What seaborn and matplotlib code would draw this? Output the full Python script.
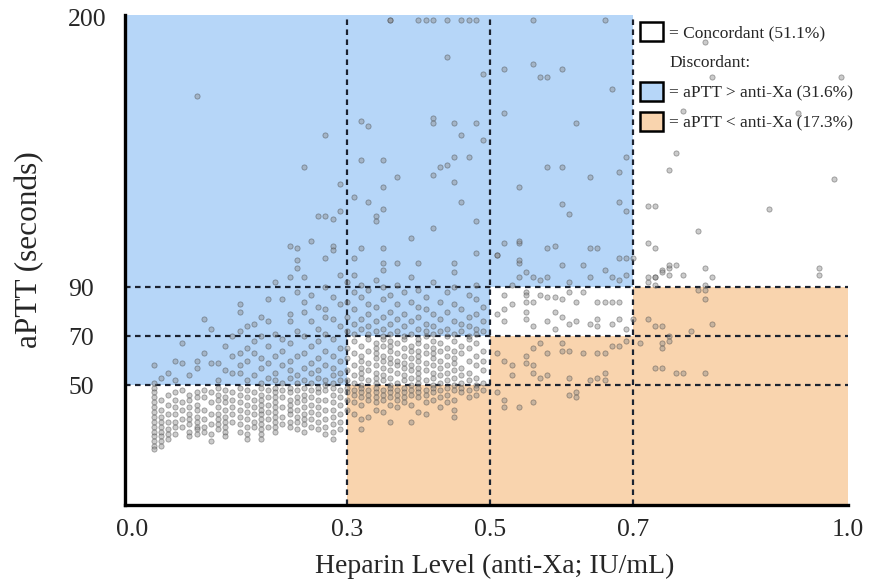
import matplotlib
matplotlib.use('Agg')
import matplotlib.pyplot as plt
from matplotlib.patches import Patch
import seaborn as sns
import pandas as pd
import numpy as np

# thresholds (therapeutic ranges)
x_cuts = [0.3, 0.5, 0.7]
y_cuts = [50, 70, 90]
x_ticks = [0.0, 0.3, 0.5, 0.7, 1.0]
y_ticks = [50, 70, 90, 200]

# concordant, low anti-Xa / low aPTT (x < 0.3, y < 50)
low_cols = [0.03, 0.04, 0.05, 0.06, 0.07, 0.08, 0.09, 0.10, 0.11, 0.12, 0.13, 0.14,
            0.15, 0.16, 0.17, 0.18, 0.19, 0.20, 0.21, 0.22, 0.23, 0.24, 0.25, 0.26,
            0.27, 0.28, 0.29]
low_vals = [
    [49, 47, 45, 43, 41, 39, 37, 35, 33, 31, 29, 27, 25, 24],
    [44, 40, 37, 35, 33, 31, 29, 27, 25],
    [46, 42, 38, 35, 32, 30, 28],
    [47, 44, 41, 38, 35, 33, 30],
    [48, 43, 40, 36, 33],
    [46, 44, 41, 38, 36, 34, 31, 29],
    [47, 45, 42, 40, 37, 35, 33, 32, 30],
    [48, 45, 40, 36, 33, 31],
    [47, 43, 38, 34, 30, 27],
    [49, 46, 44, 41, 38, 36, 34, 32],
    [48, 45, 43, 40, 37, 35, 33, 31, 29],
    [47, 44, 41, 38, 35],
    [49, 46, 43, 40, 37, 34, 31],
    [48, 45, 42, 39, 36, 33, 30, 28],
    [47, 44, 41, 38, 35, 33],
    [49, 46, 44, 42, 40, 38, 36, 34, 32, 30, 28],
    [48, 45, 42, 39, 36, 33],
    [49, 47, 45, 43, 41, 39, 37, 35, 33, 31],
    [48, 45, 41, 37, 34],
    [49, 47, 44, 42, 40, 38, 35, 33],
    [48, 45, 43, 40, 37, 35, 32],
    [49, 46, 44, 41, 38, 36, 34, 31],
    [48, 45, 42, 39, 36, 33],
    [49, 47, 44, 41, 38, 35, 32],
    [48, 44, 40, 36, 33, 30],
    [49, 46, 43, 40, 37, 34, 31, 28],
    [48, 45, 42, 38, 35, 32],
]

# aPTT > anti-Xa, x < 0.3, y 50-100
bl_cols = low_cols
bl_vals = [
    [51, 58], [53], [55], [60, 52], [59, 67], [54], [57, 60], [63, 77], [59, 73],
    [52, 59], [56, 66], [55, 62, 70], [55, 58, 63, 72, 80, 83], [52, 60, 65, 74],
    [54, 63, 75, 68], [51, 57, 61, 70, 78], [53, 59, 66, 76, 85], [52, 55, 62, 71, 92],
    [51, 58, 64, 69, 85], [53, 56, 60, 67, 76, 79, 94], [51, 54, 62, 72, 88, 98],
    [52, 57, 63, 70, 80, 84, 94], [51, 55, 59, 66, 76, 87], [53, 56, 61, 68, 73, 82],
    [50, 52, 58, 64, 71, 78, 81, 90], [51, 54, 57, 62, 69, 77, 86],
    [52, 55, 60, 65, 74, 83, 95],
]

# middle columns 0.30 - 0.49
mid_cols = [0.30, 0.31, 0.32, 0.33, 0.34, 0.35, 0.36, 0.37, 0.38, 0.39,
            0.40, 0.41, 0.42, 0.43, 0.44, 0.45, 0.46, 0.47, 0.48, 0.49]
# concordant 50-70
mid_conc_vals = [
    [52, 56, 61, 65], [51, 54, 58, 63, 68], [50, 53, 55, 57, 60, 62, 66],
    [52, 56, 59, 64, 69], [51, 53, 55, 58, 61, 63, 65, 67], [52, 54, 57, 60, 62, 66, 69],
    [50, 53, 56, 59, 61, 64, 66, 68], [51, 55, 58, 60, 63, 67], [52, 54, 57, 59, 62, 65, 69],
    [50, 53, 56, 58, 61, 64, 66], [51, 53, 55, 57, 60, 62, 64, 67, 69], [52, 56, 59, 63, 66],
    [50, 53, 55, 58, 61, 63, 65, 68], [51, 54, 57, 60, 64, 67], [52, 55, 58, 62, 65],
    [50, 53, 56, 59, 61, 64, 68], [51, 54, 57, 63, 66], [52, 55, 60, 65, 69],
    [50, 53, 58, 62, 67], [51, 56, 60, 64],
]
# aPTT < anti-Xa, below 50
mid_low_vals = [
    [49, 47, 44, 40], [48, 46, 43, 38], [49, 47, 45, 42, 36, 32], [48, 46, 44, 37],
    [49, 47, 45, 43, 40], [48, 46, 44, 39], [49, 47, 45, 42, 35], [48, 46, 44, 41],
    [49, 47, 45, 43], [48, 46, 42, 35], [49, 47, 45, 39], [48, 46, 43, 38],
    [49, 47, 44], [48, 45, 41], [49, 46, 43], [48, 44, 40, 37], [49, 47], [48, 45],
    [49, 46], [48],
]
# aPTT > anti-Xa, 70-100
mid_high_vals = [
    [72, 78, 84, 92], [71, 75, 81, 88, 95], [73, 77, 86, 91], [71, 74, 79, 83, 89],
    [72, 76, 82, 93], [70, 73, 78, 85, 90, 97], [71, 75, 80, 87], [72, 77, 83, 91],
    [70, 74, 79, 88], [71, 76, 84, 94], [73, 78, 82, 89], [70, 72, 75, 81, 86],
    [71, 74, 79, 92], [72, 77, 84], [70, 73, 80, 88], [71, 76, 83, 90, 96],
    [72, 75, 81], [70, 74, 78, 87], [71, 73, 79, 85, 91], [72, 76, 82],
]

# sparse high aPTT points (y > 100)
high_x = [0.09, 0.27, 0.24, 0.29, 0.26, 0.27, 0.28, 0.29, 0.25, 0.22, 0.23, 0.28, 0.28,
          0.27, 0.23,
          0.36, 0.36, 0.40, 0.41, 0.42, 0.44, 0.46, 0.47, 0.48, 0.44, 0.49, 0.32, 0.33,
          0.42, 0.42, 0.45, 0.48, 0.46, 0.49, 0.32, 0.35, 0.45, 0.47, 0.43, 0.44, 0.37,
          0.42, 0.45, 0.35, 0.31, 0.33, 0.35, 0.46, 0.34, 0.34, 0.48, 0.42, 0.39, 0.32,
          0.35, 0.48, 0.31, 0.35, 0.37, 0.40, 0.45,
          0.56, 0.66, 0.52, 0.56, 0.57, 0.58, 0.60, 0.67, 0.52, 0.62, 0.69, 0.58, 0.60,
          0.68, 0.64, 0.54, 0.60, 0.68, 0.69, 0.61, 0.52, 0.54, 0.59, 0.65, 0.51, 0.54,
          0.69, 0.70, 0.54, 0.58, 0.64, 0.68, 0.51, 0.54, 0.60, 0.63,
          0.73, 0.80, 0.81, 0.99, 0.77, 0.93, 0.76, 0.75, 0.98, 0.73, 0.89, 0.79, 0.72,
          0.73, 0.76, 0.75, 0.96, 0.96, 0.72]
high_y = [168, 152, 139, 132, 119, 119, 118, 121, 109, 107, 106, 107, 105,
          102, 101,
          199, 199, 199, 199, 199, 199, 199, 199, 199, 184, 177, 158, 156,
          159, 157, 157, 157, 152, 150, 142, 142, 143, 143, 139, 140, 135,
          136, 133, 131, 127, 125, 122, 125, 119, 117, 117, 114, 110, 106,
          106, 104, 102, 100, 100, 100, 100,
          199, 199, 179, 181, 176, 176, 179, 171, 161, 157, 143, 139, 139,
          137, 135, 131, 124, 125, 121, 120, 108, 108, 107, 106, 103, 100,
          102, 102, 109, 106, 106, 102, 103, 101, 99, 99,
          197, 190, 176, 176, 162, 161, 145, 138, 134, 123, 122, 113, 108,
          106, 99, 98, 98, 95, 123]

# 0.5 - 0.7 band and above-0.7 band, y 90 - 100 and below
right_x = [0.54, 0.56, 0.58, 0.64, 0.67, 0.68, 0.69, 0.55, 0.61, 0.66, 0.53, 0.57,
           0.52, 0.53, 0.55, 0.55, 0.56, 0.55, 0.55, 0.55, 0.52, 0.52, 0.51, 0.56, 0.57,
           0.58, 0.59, 0.60, 0.58, 0.59, 0.60, 0.61, 0.62, 0.62, 0.63, 0.64, 0.65, 0.65,
           0.66, 0.67, 0.68, 0.67, 0.68, 0.69, 0.70, 0.61, 0.59, 0.65,
           0.73, 0.74, 0.75, 0.73, 0.75, 0.77, 0.81, 0.80, 0.72, 0.74, 0.80, 0.72, 0.73]
right_y = [94, 94, 94, 94, 94, 93, 95, 96, 92, 97, 91, 93,
           87, 83, 88, 87, 84, 84, 80, 77, 81, 76, 79, 74, 87,
           86, 86, 85, 76, 73, 78, 75, 84, 76, 88, 75, 84, 77,
           84, 84, 84, 75, 77, 73, 77, 88, 80, 74,
           91, 97, 99, 94, 95, 95, 94, 91, 92, 96, 98, 94, 94]

# aPTT < anti-Xa for x >= 0.5
under_x = [0.51, 0.52, 0.53, 0.53, 0.55, 0.56, 0.56, 0.57, 0.58, 0.58, 0.60, 0.60,
           0.61, 0.63, 0.65, 0.66, 0.67, 0.68, 0.69, 0.57, 0.61, 0.64, 0.65, 0.66, 0.66,
           0.56, 0.55, 0.51, 0.52, 0.56, 0.62, 0.62, 0.52, 0.54, 0.61,
           0.74, 0.72, 0.74, 0.75, 0.74, 0.77, 0.73, 0.78, 0.81, 0.80, 0.79, 0.73, 0.76,
           0.80, 0.74, 0.71, 0.75, 0.80]
under_y = [63, 60, 58, 54, 62, 65, 58, 67, 63, 54, 67, 64,
           64, 63, 63, 63, 66, 66, 68, 53, 53, 52, 53, 55, 52,
           55, 59, 47, 41, 43, 47, 45, 44, 41, 46,
           74, 77, 67, 70, 57, 55, 74, 72, 75, 85, 89, 57, 55,
           55, 65, 67, 68, 89]


def cols_to_frame(cols, vals):
    xs, ys = [], []
    for c, v in zip(cols, vals):
        xs += [c] * len(v)
        ys += v
    return pd.DataFrame({'x': xs, 'y': ys})


df = pd.concat([
    cols_to_frame(low_cols, low_vals),
    cols_to_frame(bl_cols, bl_vals),
    cols_to_frame(mid_cols, mid_conc_vals),
    cols_to_frame(mid_cols, mid_low_vals),
    cols_to_frame(mid_cols, mid_high_vals),
    pd.DataFrame({'x': high_x, 'y': high_y}),
    pd.DataFrame({'x': right_x, 'y': right_y}),
    pd.DataFrame({'x': under_x, 'y': under_y}),
], ignore_index=True)

sns.set_style('white')
plt.rcParams['font.family'] = ['Liberation Serif', 'DejaVu Serif']

blue = '#b6d6f8'
orange = '#f9d4ae'
line_col = '#1c2330'

fig = plt.figure(figsize=(8.87, 5.85), dpi=100)
ax = fig.add_axes([125 / 887, 80 / 585, 723 / 887, 490 / 585])
xmin, xmax = -0.01, 1.0
ymin, ymax = 1, 201.2
ax.set_xlim(xmin, xmax)
ax.set_ylim(ymin, ymax)

# shaded discordance regions
blue_edges = [xmin] + x_cuts
for i in range(3):
    ax.fill_between([blue_edges[i], blue_edges[i + 1]], y_cuts[i], ymax,
                    color=blue, lw=0, zorder=0)
orange_edges = x_cuts + [xmax]
for i in range(3):
    ax.fill_between([orange_edges[i], orange_edges[i + 1]], ymin, y_cuts[i],
                    color=orange, lw=0, zorder=0)

# dashed threshold lines
for yc in y_cuts:
    ax.axhline(yc, color=line_col, lw=1.6, ls=(0, (2.5, 2)), zorder=1)
for xc in x_cuts:
    ax.axvline(xc, color=line_col, lw=1.6, ls=(0, (2.5, 2)), zorder=1)

sns.scatterplot(data=df, x='x', y='y', ax=ax, s=14, color='#8c8c8c',
                edgecolor='#3a3a3a', linewidth=0.6, alpha=0.45, zorder=2)

for side in ['top', 'right']:
    ax.spines[side].set_visible(False)
for side in ['left', 'bottom']:
    ax.spines[side].set_linewidth(2.4)
    ax.spines[side].set_color('black')

ax.set_xticks(x_ticks)
ax.set_xticklabels(['0.0', '0.3', '0.5', '0.7', '1.0'], fontsize=18.5)
ax.set_yticks(y_ticks)
ax.set_yticklabels([str(v) for v in y_ticks], fontsize=18.5)
for lab in ax.get_yticklabels():
    lab.set_horizontalalignment('left')
ax.tick_params(axis='y', length=0, pad=41)
ax.tick_params(axis='x', length=0, pad=10)

ax.set_xlabel('Heparin Level (anti-Xa; IU/mL)', fontsize=20)
ax.set_ylabel('aPTT (seconds)', fontsize=22.5)
ax.xaxis.set_label_coords(0.512, -0.1)
ax.yaxis.set_label_coords(-0.112, 0.522)

handles = [
    Patch(facecolor='white', edgecolor='black', lw=1.8),
    Patch(facecolor='none', edgecolor='none'),
    Patch(facecolor=blue, edgecolor='black', lw=1.8),
    Patch(facecolor=orange, edgecolor='black', lw=1.8),
]
labels = ['= Concordant (51.1%)', 'Discordant:',
          '= aPTT > anti-Xa (31.6%)', '= aPTT < anti-Xa (17.3%)']
ax.legend(handles, labels, loc='upper left', bbox_to_anchor=(0.712, 0.986),
          frameon=False, fontsize=12.5, handlelength=1.35, handleheight=1.35,
          handletextpad=0.35, labelspacing=0.6, borderpad=0, borderaxespad=0)

ax.grid(False)
plt.savefig('out.png', dpi=100)
